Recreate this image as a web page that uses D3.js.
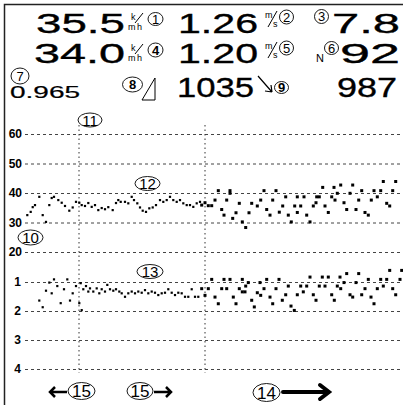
<!DOCTYPE html>
<html>
<head>
<meta charset="utf-8">
<script src="https://cdn.jsdelivr.net/npm/d3@7"></script>
<style>
  body { margin: 0; background: #fff; }
  svg { display: block; font-family: "Liberation Sans", Arial, sans-serif; }
</style>
</head>
<body>
<div id="chart"></div>
<script>
// ===== data =====
// upper trace (speed, km/h) : time index / value
const speedTimes = [2.3, 5.7, 7.7, 10, 14.3, 17.7, 21, 24.3, 26.7, 29, 33.3, 36.7, 40, 44.3, 47.7, 51, 54.3, 56.7, 60, 63.3, 66.7, 70, 73.3, 76.7, 80, 83.3, 87.7, 91, 93.3, 95.7, 100, 103.3, 106.7, 109, 112.3, 115, 117.7, 121, 124.3, 127.7, 131, 135, 138.3, 141.7, 145, 148.3, 151.7, 155, 158.3, 161.7, 165, 168.3, 171.7, 175,
    176.7, 180, 183.3, 186.7, 190, 193.3, 196.7, 199, 201.7, 205, 205, 207.7, 211, 214.3, 217.3, 220.7, 224, 226.7, 232.3, 235.7, 239, 241.7, 245, 247.7, 251, 254.3, 257.7, 260.7, 263.3, 266.3, 269.7, 272.3, 272.3, 275.7, 279, 281.7, 285, 288.3, 291, 291.7, 294.3, 297.7, 300, 303.3, 306.7, 309, 310, 312.3, 315.7, 319, 321.7, 325, 327.7, 331, 333.7, 336.7, 340, 343.3, 346.3, 349, 352.3, 355.7, 358.3, 361.7, 364.7, 367.7, 370.7];
const speedValues = [32.5, 33.6, 35.2, 35.9, 38.7, 32.5, 30.2, 35.9, 38.3, 38.7, 37.6, 36.7, 35.6, 34.0, 35.1, 37.0, 36.7, 35.9, 35.6, 36.6, 35.3, 35.9, 34.2, 34.9, 34.5, 35.2, 34.2, 36.6, 37.6, 37.0, 37.0, 36.5, 38.7, 37.6, 36.5, 35.1, 34.0, 33.6, 34.8, 35.1, 35.9, 37.6, 37.0, 37.6, 38.7, 37.6, 37.0, 37.6, 36.5, 35.9, 35.9, 35.3, 36.5, 37.0,
    35.9, 36.7, 35.7, 35.7, 37.6, 40.8, 34.4, 32.5, 37.6, 40.8, 39.9, 31.4, 33.3, 36.5, 30.2, 28.3, 33.3, 36.5, 35.6, 37.6, 40.8, 34.4, 32.5, 37.6, 40.8, 33.5, 35.6, 38.7, 32.5, 30.2, 35.6, 38.7, 33.4, 35.6, 38.7, 32.5, 30.2, 35.6, 36.7, 38.7, 38.7, 41.9, 35.6, 33.4, 38.7, 41.9, 37.6, 39.9, 42.7, 36.7, 34.4, 39.9, 42.7, 34.4, 37.6, 40.8, 33.4, 32.5, 37.6, 40.8, 38.7, 40.8, 43.9, 36.5, 35.6, 40.8, 43.9];

// lower trace (1..4 scale, inverted)
const lowerTimes = [14.3, 17.7, 21, 24.3, 26.7, 29, 32.3, 35.7, 39, 42.3, 45, 47.7, 51, 54.3, 56.7, 55.7, 58.3, 61, 63.3, 65, 68.3, 71.7, 74.3, 76.7, 80, 82.3, 85, 88.3, 91, 94.3, 96.7, 100, 103.3, 106.7, 110, 113.3, 116.7, 120, 123.3, 126.7, 130, 133.3, 136.7, 140, 143.3, 146.7, 150, 153.3, 156.7, 160, 163.3, 166.7, 170, 173.3,
    176.7, 180, 183.3, 186.7, 190, 193.3, 196.7, 199, 201.7, 205, 208.3, 211, 214.3, 217.3, 217.3, 220, 220.7, 223.3, 226.7, 229.3, 232.3, 235, 235.7, 239, 241.7, 245, 247.7, 251, 254, 257.3, 260.7, 263.3, 266, 269.3, 272.3, 275.7, 278.3, 281.7, 285, 288.3, 291, 294.3, 297.3, 300, 303.3, 306.7, 309.3, 312.3, 315, 315.7, 319, 321.7, 325, 327.7, 331, 333.7, 336.7, 340, 343.3, 346, 349, 352.3, 355.7, 358.3, 361.7, 364.7, 367.7, 370.7, 375, 376.7];
const lowerValues = [1.64, 1.87, 1.30, 1.02, 1.39, 0.91, 1.14, 1.73, 1.25, 0.91, 1.64, 1.39, 1.14, 1.73, 1.97, 1.04, 1.25, 1.14, 1.33, 1.22, 1.33, 1.22, 1.39, 1.25, 1.33, 1.10, 1.25, 1.30, 1.25, 1.33, 1.39, 1.51, 1.39, 1.33, 1.39, 1.33, 1.37, 1.28, 1.39, 1.33, 1.37, 1.45, 1.39, 1.37, 1.25, 1.37, 1.45, 1.37, 1.39, 1.51, 1.51, 1.25, 1.51, 1.51,
    1.23, 1.46, 1.23, 0.91, 1.52, 1.75, 1.23, 0.91, 1.23, 0.91, 1.52, 1.75, 1.23, 0.91, 1.34, 1.34, 1.14, 1.02, 1.63, 1.86, 1.37, 1.02, 1.46, 1.23, 0.91, 1.52, 1.75, 1.23, 0.91, 1.63, 1.44, 1.14, 1.83, 1.98, 1.44, 1.14, 1.34, 1.14, 0.83, 1.44, 1.63, 1.14, 0.83, 1.14, 0.83, 1.44, 1.63, 1.14, 0.83, 1.23, 1.02, 0.71, 1.44, 1.52, 1.02, 0.71, 1.44, 1.23, 0.91, 1.52, 1.75, 1.23, 0.91, 1.14, 0.91, 0.60, 1.23, 1.44, 0.91, 0.60];

const topTicks = [60, 50, 40, 30, 20];
const bottomTicks = [1, 2, 3, 4];
const markerTimes = [54, 180];

// read-outs in the header
const readouts = [
    { text: "35.5", x: 36, y: 33, w: 89, size: 28 },
    { text: "1.26", x: 178, y: 33, w: 80, size: 28 },
    { text: "7.8", x: 332, y: 33, w: 68, size: 28 },
    { text: "34.0", x: 34, y: 63, w: 91, size: 28 },
    { text: "1.20", x: 178, y: 63, w: 80, size: 28 },
    { text: "92", x: 340, y: 63, w: 60, size: 28 },
    { text: "0.965", x: 10, y: 98, w: 70, size: 16 },
    { text: "1035", x: 177, y: 97, w: 77, size: 28 },
    { text: "987", x: 337, y: 97, w: 60, size: 28 }
];
// reference numerals (circled)
const numerals = [
    { n: "1", x: 155.5, y: 19, rx: 7.5, ry: 6.5 },
    { n: "2", x: 286.5, y: 17, rx: 7, ry: 7 },
    { n: "3", x: 321.5, y: 16.5, rx: 7, ry: 7 },
    { n: "4", x: 155.5, y: 50, rx: 7.5, ry: 7 },
    { n: "5", x: 286.5, y: 48, rx: 7, ry: 7 },
    { n: "6", x: 331.5, y: 48, rx: 7, ry: 6.5 },
    { n: "7", x: 20, y: 76, rx: 9, ry: 8 },
    { n: "8", x: 132.5, y: 84.5, rx: 10, ry: 7.5 },
    { n: "9", x: 281.5, y: 87.5, rx: 7, ry: 6 },
    { n: "11", x: 90, y: 120, rx: 12, ry: 7 },
    { n: "12", x: 147.5, y: 183.5, rx: 12.5, ry: 7 },
    { n: "10", x: 30.5, y: 237.5, rx: 12.5, ry: 7.5 },
    { n: "13", x: 150, y: 271.5, rx: 13, ry: 7 },
    { n: "15", x: 81.5, y: 391, rx: 13.5, ry: 8.5 },
    { n: "15", x: 140, y: 391, rx: 13, ry: 8.5 },
    { n: "14", x: 266.5, y: 392.5, rx: 13.5, ry: 9 }
];

// ===== drawing =====
const width = 403;
const height = 405;

const svg = d3.select("#chart")
    .append("svg")
    .attr("width", width)
    .attr("height", height);

// frame (left + top edge)
svg.append("path")
    .attr("d", `M4.5,${height} L4.5,4.5 L${width},4.5`)
    .attr("fill", "none")
    .attr("stroke", "#222")
    .attr("stroke-width", 1.5);

// scales
const x = d3.scaleLinear().domain([0, 378]).range([25, 403]);
const yTop = d3.scaleLinear().domain([20, 60]).range([252, 134]);
const yBot = d3.scaleLinear().domain([1, 4]).range([282, 369]);

// gridlines + tick labels through axes
function styleAxis(g) {
    g.select(".domain").remove();
    g.selectAll(".tick line")
        .attr("stroke", "#444")
        .attr("stroke-dasharray", "3,3");
    g.selectAll(".tick text")
        .attr("fill", "#000")
        .style("font-size", "12px")
        .style("font-weight", "bold")
        .style("font-family", "'Liberation Sans', Arial, sans-serif");
}

svg.append("g")
    .attr("transform", `translate(25,0)`)
    .call(d3.axisLeft(yTop).tickValues(topTicks).tickSize(-378).tickPadding(3).tickFormat(d3.format("d")))
    .call(styleAxis);

svg.append("g")
    .attr("transform", `translate(25,0)`)
    .call(d3.axisLeft(yBot).tickValues(bottomTicks).tickSize(-378).tickPadding(4).tickFormat(d3.format("d")))
    .call(styleAxis);

// vertical marker lines
svg.selectAll(".marker")
    .data(markerTimes)
    .join("line")
    .attr("class", "marker")
    .attr("x1", d => x(d)).attr("x2", d => x(d))
    .attr("y1", 125).attr("y2", 373)
    .attr("stroke", "#333")
    .attr("stroke-dasharray", "1.5,3");

// scatter points
function dots(times, values, yScale, cls) {
    const pts = times.map((t, i) => ({ t, v: values[i] }));
    svg.selectAll("." + cls)
        .data(pts)
        .join("rect")
        .attr("class", cls)
        .attr("x", d => x(d.t) - (d.t < 176 ? 1.1 : 1.5))
        .attr("y", d => yScale(d.v) - (d.t < 176 ? 1.1 : 1.5))
        .attr("width", d => d.t < 176 ? 2.2 : 3)
        .attr("height", d => d.t < 176 ? 2.2 : 3)
        .attr("fill", "#000");
}
dots(speedTimes, speedValues, yTop, "spd");
dots(lowerTimes, lowerValues, yBot, "low");

// header read-outs
svg.selectAll(".readout")
    .data(readouts)
    .join("text")
    .attr("class", "readout")
    .attr("x", d => d.x)
    .attr("y", d => d.y)
    .attr("textLength", d => d.w)
    .attr("lengthAdjust", "spacingAndGlyphs")
    .attr("fill", "#000")
    .attr("stroke", "#000")
    .attr("stroke-width", d => d.size > 20 ? 0.35 : 0.2)
    .style("font-size", d => d.size + "px")
    .text(d => d.text);

// small unit glyphs: k/m h and m/s
function unitKmh(x0, y0) {
    const g = svg.append("g").attr("transform", `translate(${x0},${y0})`).style("font-size", "9px");
    g.append("text").attr("x", 3).attr("y", 7).text("k");
    g.append("text").attr("x", 0).attr("y", 17).text("m");
    g.append("text").attr("x", 9).attr("y", 17).text("h");
    g.append("line").attr("x1", 7).attr("y1", 10).attr("x2", 15).attr("y2", 0).attr("stroke", "#000");
}
function unitMs(x0, y0) {
    const g = svg.append("g").attr("transform", `translate(${x0},${y0})`).style("font-size", "9px");
    g.append("text").attr("x", 0).attr("y", 8).text("m");
    g.append("text").attr("x", 8).attr("y", 17).text("s");
    g.append("line").attr("x1", 3).attr("y1", 17).attr("x2", 12).attr("y2", 1).attr("stroke", "#000");
}
unitKmh(128, 13);
unitKmh(128, 44);
unitMs(265, 10);
unitMs(265, 41);

svg.append("text")
    .attr("x", 316).attr("y", 62)
    .style("font-size", "11px")
    .text("N");

// circled numerals
const circ = svg.selectAll(".num")
    .data(numerals)
    .join("g")
    .attr("class", "num")
    .attr("transform", d => `translate(${d.x},${d.y})`);
circ.append("ellipse")
    .attr("rx", d => d.rx)
    .attr("ry", d => d.ry)
    .attr("fill", "none")
    .attr("stroke", "#000")
    .attr("stroke-width", 0.9);
circ.append("text")
    .attr("text-anchor", "middle")
    .attr("dy", "0.37em")
    .style("font-size", d => d.ry > 8 ? "17px" : (d.n.length > 1 ? "15px" : "13px"))
    .style("font-weight", d => (d.n === "8" || d.n === "9" || d.n === "4") ? "bold" : "normal")
    .text(d => d.n);

// right-triangle symbol next to 8
svg.append("path")
    .attr("d", "M142,100 L155,78 L155,100 Z")
    .attr("fill", "none")
    .attr("stroke", "#000");

// diagonal arrow next to 9
svg.append("path")
    .attr("d", "M258,76 L272,92 M272,92 L271,85 M272,92 L265,91")
    .attr("fill", "none")
    .attr("stroke", "#000")
    .attr("stroke-width", 1.2);

// bottom direction arrows
svg.append("path")
    .attr("d", "M50,392 L67,392 M55,387 L50,392 L55,397")
    .attr("fill", "none")
    .attr("stroke", "#000")
    .attr("stroke-width", 2.5);
svg.append("path")
    .attr("d", "M154,392 L171,392 M166,387 L171,392 L166,397")
    .attr("fill", "none")
    .attr("stroke", "#000")
    .attr("stroke-width", 2.5);
svg.append("path")
    .attr("d", "M283,392 L328,392 M320,385 L329,392 L320,399")
    .attr("fill", "none")
    .attr("stroke", "#000")
    .attr("stroke-width", 4)
    .attr("stroke-linecap", "round");
</script>
</body>
</html>
